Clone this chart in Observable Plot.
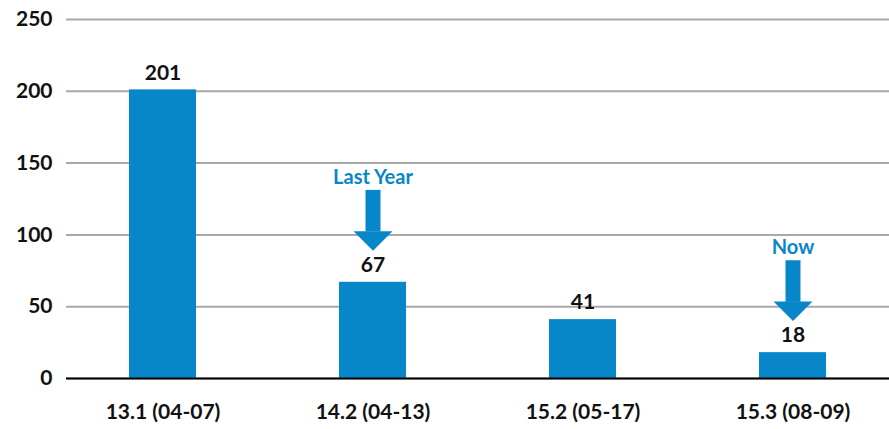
<!DOCTYPE html>
<html>
<head>
<meta charset="utf-8">
<script src="https://cdn.jsdelivr.net/npm/d3@7"></script>
<script src="https://cdn.jsdelivr.net/npm/@observablehq/plot@0.6"></script>
<style>
  html, body { margin: 0; padding: 0; background: #fff; }
  #chart svg { display: block; }
</style>
</head>
<body>
<div id="chart"></div>
<script>
const categories = ["13.1 (04-07)", "14.2 (04-13)", "15.2 (05-17)", "15.3 (08-09)"];
const counts = [201, 67, 41, 18];
const yTicks = [0, 50, 100, 150, 200, 250];
const calloutLabels = ["Last Year", "Now"];
const calloutCategories = ["14.2 (04-13)", "15.3 (08-09)"];

const BLUE = "#0787c9";
const INK = "#111111";

const data = categories.map((c, i) => ({category: c, count: counts[i]}));
const callouts = calloutLabels.map((label, i) => {
  const cat = calloutCategories[i];
  const v = counts[categories.indexOf(cat)];
  return {category: cat, label, value: v};
});

// offsets (in data units) above the bar value for the callout arrow
const TIP = 22, HEAD = 13, SHAFT_TOP = 42, TEXT = 73;

const downHead = {
  draw(ctx, size) {
    const r = Math.sqrt(size / Math.PI);
    ctx.moveTo(-r, -r);
    ctx.lineTo(r, -r);
    ctx.lineTo(0, 0);
    ctx.closePath();
  }
};

const chart = Plot.plot({
  width: 889,
  height: 429,
  marginTop: 19,
  marginBottom: 51,
  marginLeft: 66,
  marginRight: 0,
  style: {fontFamily: "Lato, 'Open Sans', sans-serif", fontWeight: "bold", color: INK, background: "#fff"},
  x: {domain: categories, paddingInner: 0.68, paddingOuter: 0.34, insetLeft: -8, insetRight: -9, label: null},
  y: {domain: [0, 250], label: null},
  marks: [
    Plot.gridY(yTicks, {stroke: "#a9a9a9", strokeOpacity: 1, strokeWidth: 2}),
    Plot.axisY(yTicks, {tickSize: 0, tickPadding: 14, fontSize: 21, fontWeight: "bold", fill: INK, label: null}),
    Plot.axisX({tickSize: 0, tickPadding: 26, fontSize: 21, fontWeight: "bold", fill: INK, label: null}),
    Plot.barY(data, {x: "category", y: "count", fill: BLUE}),
    Plot.ruleY([0], {stroke: "#000", strokeWidth: 2}),
    Plot.text(data, {x: "category", y: "count", text: d => String(d.count), dy: -17, fontSize: 21, fontWeight: "bold", fill: INK}),
    Plot.ruleX(callouts, {x: "category", y1: d => d.value + TIP + HEAD, y2: d => d.value + TIP + SHAFT_TOP, stroke: BLUE, strokeWidth: 15}),
    Plot.dot(callouts, {x: "category", y: d => d.value + TIP, symbol: downHead, r: 19.5, fill: BLUE, stroke: null}),
    Plot.text(callouts, {x: "category", y: d => d.value + TEXT, text: "label", fontSize: 20, fontWeight: "bold", fill: BLUE})
  ]
});
document.getElementById("chart").appendChild(chart);
</script>
</body>
</html>
